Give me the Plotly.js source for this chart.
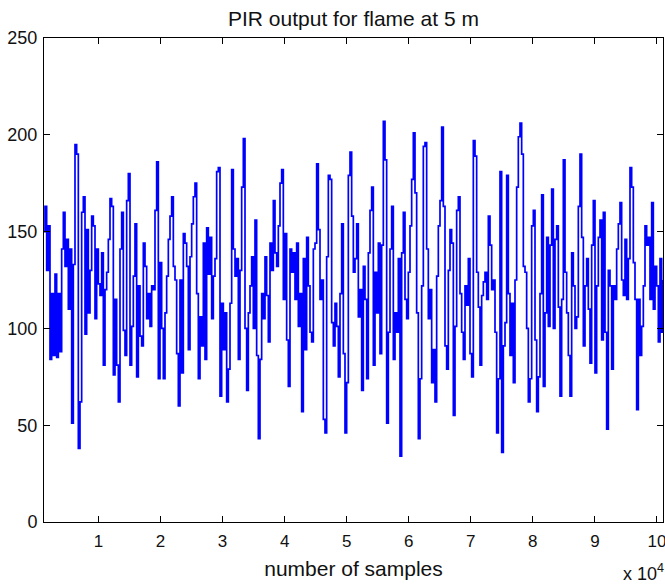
<!DOCTYPE html>
<html>
<head>
<meta charset="utf-8">
<script src="https://cdn.plot.ly/plotly-3.0.1.min.js"></script>
<style>html,body{margin:0;padding:0;background:#fff;}#chart{width:665px;height:586px;}</style>
</head>
<body>
<div id="chart"></div>
<script>
// PIR output values, left to right (uniform sample spacing)
const segA = [150,163,130,153,84,118,86,128,85,118,88,141,160,132,146,110,141,51,133,195,190,38,62,160,168,97,151,108,130,158,153,105,141,123,117,139,81,120,129,146,167,163,76,115,81,62];
const segB = [141,160,99,86,166,180,81,101,127,154,75,122,96,91,144,132,105,118,101,122,120,161,186,74,134,100,74,108,127,146,158,168,132,125,87,60,125,77,149,144,132,89,137,154,168,175,118,74];
const segC = [106,91,144,84,152,128,147,105,127,136,181,183,65,113,89,108,62,79,113,182,141,127,136,84,130,173,198,100,68,108,122,137,100,156,86,43,84,118,105,137,117,93,144,130,166,139,132,153];
const segD = [175,182,115,149,94,70,141,129,139,115,144,101,118,57,136,89,147,122,98,93,141,144,185,151,115,125,53,46,137,179,177,103,91,113,101,75,118,154,87,46,72,179,191,158,129,136,154,106];
const segE = [120,68,132,115,74,139,161,173,81,129,108,144,87,143,207,187,51,98,141,163,84,108,98,136,34,139,160,115,105,129,153,177,201,170,108,43,74,122,194,196,141,105,120,72,89,62,127,153];
const segF = [166,204,163,91,79,130,151,144,55,101,161,168,118,98,84,122,112,136,87,75,197,189,129,111,81,117,124,129,115,158,143,120,125,98,46,74,181,36,91,103,179,118,86,113,72,125,173,199];
const segG = [206,190,132,129,100,62,74,153,161,94,57,75,118,169,70,108,147,101,143,172,100,146,153,111,65,115,187,129,108,86,65,139,122,100,106,163,190,147,91,122,136,110,82,143,166,77,122,147];
const segH = [156,94,160,98,48,130,122,79,122,115,141,154,165,125,117,146,115,136,183,173,134,115,58,115,86,101,122,153,143,147,115,165,110,132,122,93,136,98,125];

const firstSample = 1109;   // sample number of the first value
const sampleStep = 268.6;   // samples between successive values

const xTickVals = [10000,20000,30000,40000,50000,60000,70000,80000,90000,100000];
const xTickText = ["1","2","3","4","5","6","7","8","9","10"];
const yTickVals = [0,50,100,150,200,250];

const pir = [].concat(segA, segB, segC, segD, segE, segF, segG, segH);
const samples = pir.map((v, i) => firstSample + i * sampleStep);

const fontFam = '"Liberation Sans", Arial, Helvetica, sans-serif';

const trace = {
  x: samples, y: pir, type: 'scatter', mode: 'lines',
  line: {color: '#0000ff', width: 1.7, shape: 'hv'}, hoverinfo: 'skip'
};

const axisCommon = {
  showline: true, linecolor: '#000', linewidth: 1, mirror: 'ticks',
  ticks: 'inside', ticklen: 6, tickwidth: 1, tickcolor: '#000',
  showgrid: false, zeroline: false, ticklabeloverflow: 'allow',
  tickfont: {family: fontFam, size: 18, color: '#111'}
};

const layout = {
  width: 665, height: 586,
  margin: {l: 44, r: 2, t: 38, b: 64},
  paper_bgcolor: '#fff', plot_bgcolor: '#fff',
  showlegend: false,
  title: {text: 'PIR output for flame at 5 m', font: {family: fontFam, size: 21, color: '#111'},
          xref: 'paper', x: 0.5, xanchor: 'center', yref: 'container', y: 0.969, yanchor: 'middle'},
  xaxis: Object.assign({}, axisCommon, {
    range: [1217, 100975], tickmode: 'array', tickvals: xTickVals, ticktext: xTickText,
    automargin: false, ticklabelstandoff: 4,
    tickfont: {family: fontFam, size: 17, color: '#111'},
    title: {text: 'number of samples', font: {family: fontFam, size: 21, color: '#111'}, standoff: 10}
  }),
  yaxis: Object.assign({}, axisCommon, {
    range: [0, 250], tickmode: 'array', tickvals: yTickVals, automargin: false, ticklabelstandoff: 2
  }),
  annotations: [{
    text: 'x 10<sup>4</sup>', xref: 'paper', yref: 'paper', x: 0.968, y: -0.105,
    xanchor: 'center', yanchor: 'middle', showarrow: false,
    font: {family: fontFam, size: 18, color: '#111'}
  }]
};

Plotly.newPlot('chart', [trace], layout, {displayModeBar: false, staticPlot: true});
</script>
</body>
</html>
